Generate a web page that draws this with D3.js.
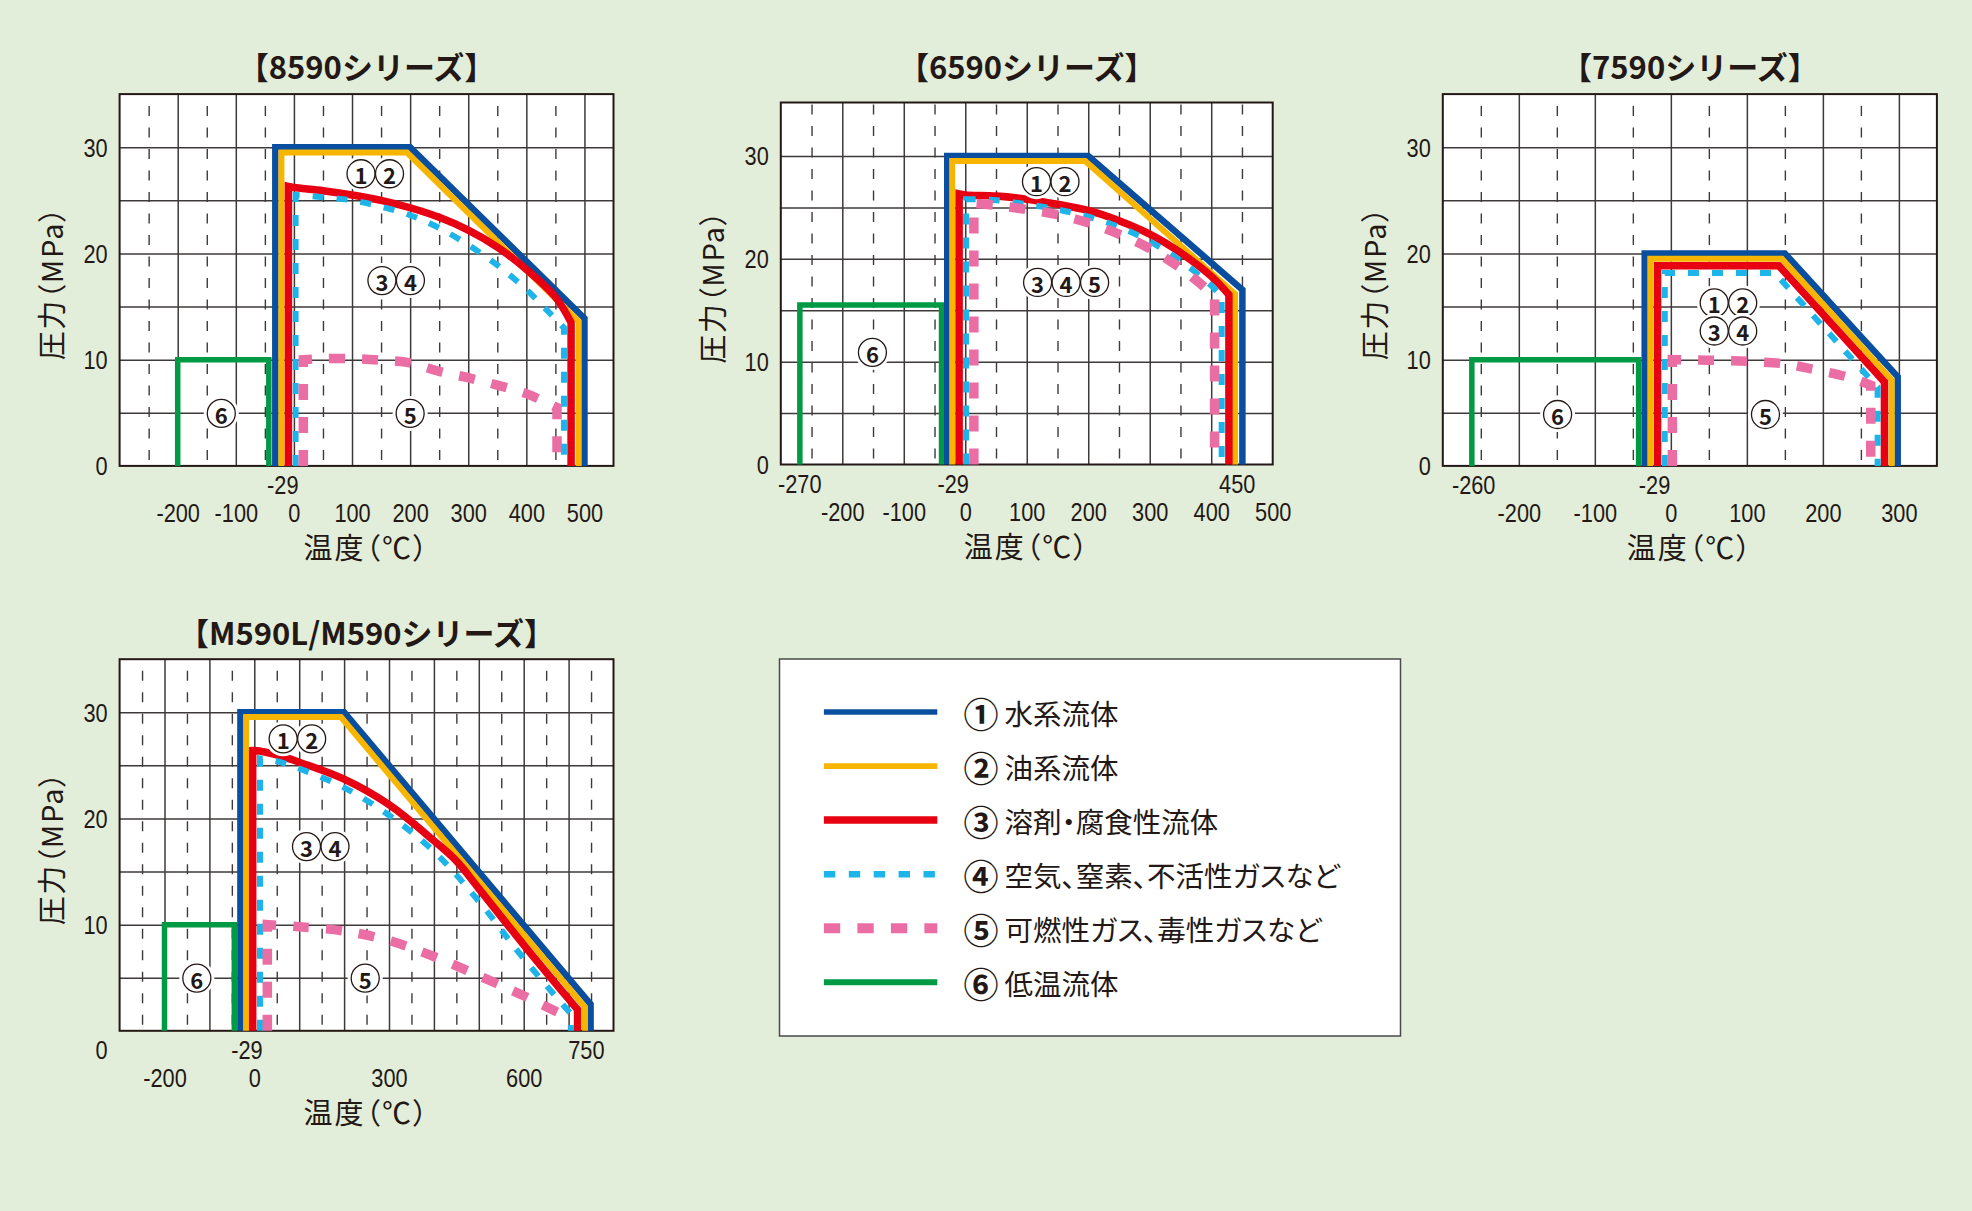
<!DOCTYPE html>
<html><head><meta charset="utf-8">
<script src="https://cdn.jsdelivr.net/npm/d3@7"></script>
<style>
html,body{margin:0;padding:0;background:#e2eed9;}
svg{display:block;}
</style></head><body>
<svg id="c" width="1972" height="1211"></svg>
<script>
// ================= DATA =================
const seriesMarks = ["①","②","③","④","⑤","⑥"];
const seriesNames = ["水系流体","油系流体","溶剤・腐食性流体","空気、窒素、不活性ガスなど","可燃性ガス、毒性ガスなど","低温流体"];
const yTickValues = [0, 10, 20, 30];
const yAxisTitle = "圧力（MPa）";
const xAxisTitle = "温度（℃）";

// 【8590シリーズ】
const title8590 = "【8590シリーズ】";
const water8590 = [[-32,0],[-32,30],[200,30],[500,13.9],[500,0]];
const oil8590   = [[-21.5,0],[-21.5,29.5],[194.5,29.5],[490,13.6],[490,0]];
const solv8590  = [[-9.5,0],[-9.5,26.3],[0,26.2],[50,25.9],[100,25.5],[150,25.0],[200,24.3],[250,23.4],[300,22.2],[350,20.6],[400,18.5],[450,15.9],[477,13.5],[477,0]];
const air8590   = [[2.9,0],[2.9,25.5],[50,25.3],[100,25.0],[150,24.4],[200,23.6],[250,22.4],[300,20.8],[350,18.9],[400,16.6],[440,14.4],[464.7,13.0],[464.7,0]];
const fuel8590  = [[16.2,0],[16.2,10.0],[50,10.1],[100,10.1],[150,9.95],[200,9.7],[250,8.9],[300,8.3],[350,7.6],[400,6.8],[452.8,5.5],[452.8,0]];
const cryo8590  = [[-200,0],[-200,10],[-43.2,10],[-43.2,0]];
const marks8590 = [["①②",140,27.5],["③④",176,17.45],["⑥",-125,4.94],["⑤",200,4.94]];
const row1Ticks8590 = [-29];
const row2Ticks8590 = [-200,-100,0,100,200,300,400,500];

// 【6590シリーズ】
const title6590 = "【6590シリーズ】";
const water6590 = [[-29.3,0],[-29.3,30],[200,30],[450.7,17.0],[450.7,0]];
const oil6590   = [[-21.3,0],[-21.3,29.5],[195,29.5],[438.7,16.6],[438.7,0]];
const solv6590  = [[-10,0],[-10,26.3],[0,26.2],[50,26.1],[100,25.8],[150,25.3],[200,24.7],[250,23.7],[300,22.4],[350,20.6],[400,18.3],[428.8,16.5],[428.8,0]];
const air6590   = [[1.3,0],[1.3,25.8],[50,25.7],[100,25.3],[150,24.8],[200,24.1],[250,23.1],[300,21.7],[350,19.8],[400,17.4],[417,16.3],[417,0]];
const fuel6590  = [[14,0],[14,25.4],[50,25.2],[100,24.8],[150,24.3],[200,23.5],[250,22.4],[300,21.0],[350,19.1],[380,17.7],[405.5,16.3],[405.5,0]];
const cryo6590  = [[-269,0],[-269,15.5],[-38.6,15.5],[-38.6,0]];
const marks6590 = [["①②",139,27.5],["③④⑤",164,17.7],["⑥",-151,10.9]];
const row1Ticks6590 = [-270,-29,450];
const row2Ticks6590 = [-200,-100,0,100,200,300,400,500];

// 【7590シリーズ】
const title7590 = "【7590シリーズ】";
const water7590 = [[-34.4,0],[-34.4,20],[150,20],[298.4,8.4],[298.4,0]];
const oil7590   = [[-27,0],[-27,19.5],[146,19.5],[290.4,8.1],[290.4,0]];
const solv7590  = [[-17.5,0],[-17.5,18.85],[142,18.85],[281,7.9],[281,0]];
const air7590   = [[-8,0],[-8,18.15],[137,18.15],[272,7.4],[272,0]];
const fuel7590  = [[2,0],[2,10],[50,9.95],[100,9.85],[150,9.6],[180,9.2],[220,8.6],[245,8.1],[263,7.6],[263,0]];
const cryo7590  = [[-261.8,0],[-261.8,10],[-42.4,10],[-42.4,0]];
const marks7590 = [["①②",75.8,15.35],["③④",75.8,12.7],["⑥",-149,4.84],["⑤",124.5,4.84]];
const row1Ticks7590 = [-260,-29];
const row2Ticks7590 = [-200,-100,0,100,200,300];

// 【M590L/M590シリーズ】
const titleM590 = "【M590L/M590シリーズ】";
const waterM590 = [[-30.9,0],[-30.9,30],[200,30],[749,2.5],[749,0]];
const oilM590   = [[-18.2,0],[-18.2,29.55],[193,29.55],[736.5,2.2],[736.5,0]];
const solvM590  = [[-3.6,0],[-3.6,26.4],[0,26.4],[50,26.0],[100,25.3],[200,23.7],[300,21.3],[400,17.9],[450,16.0],[500,13.4],[600,8.1],[700,3.0],[720,2.0],[720,0]];
const airM590   = [[12.7,0],[12.7,25.65],[50,25.4],[100,24.7],[200,22.9],[300,20.3],[400,16.9],[500,12.2],[600,6.8],[705,1.6],[705,0]];
const fuelM590  = [[29,0],[29,10],[100,9.8],[200,9.4],[300,8.5],[400,7.0],[500,5.2],[600,3.3],[688,1.5]];
const cryoM590  = [[-200,0],[-200,10],[-44.5,10],[-44.5,0]];
const marksM590 = [["①②",96,27.5],["③④",148,17.35],["⑥",-128,4.96],["⑤",247,4.96]];
const row1TicksM590 = [-29,750];
const row2TicksM590 = [-200,0,300,600];

// ================= STYLE / LAYOUT =================
const ink = "#231815";
const gridColor = "#3e3a39";
const seriesStyle = [
  {color:"#0a4f9f", width:6.5, dash:null, smooth:false},
  {color:"#f8b500", width:6,   dash:null, smooth:false},
  {color:"#e60012", width:7.5, dash:null, smooth:true},
  {color:"#1db4ea", width:6,   dash:"11 13", smooth:true},
  {color:"#ea6da4", width:9.5, dash:"16 17", smooth:true},
  {color:"#009a44", width:5.5, dash:null, smooth:false}
];
const jpFont = '"Noto Sans CJK JP","Noto Sans CJK SC",sans-serif';
const numFont = '"Liberation Sans",Arial,sans-serif';
const numSize = 25, numScale = 0.87;
const markR = 14, markStep = 28.5;

const charts = [
  {title:title8590, titleY:65, left:119.6, right:613.5, top:94.1, bottom:465.9, xDomain:[-300,550], yDomain:[0,35],
   series:[water8590,oil8590,solv8590,air8590,fuel8590,cryo8590], marks:marks8590, row1:row1Ticks8590, row2:row2Ticks8590, zeroInRow1:false},
  {title:title6590, titleY:65, left:780.8, right:1272.7, top:102.5, bottom:464.5, xDomain:[-300,500], yDomain:[0,35.2],
   series:[water6590,oil6590,solv6590,air6590,fuel6590,cryo6590], marks:marks6590, row1:row1Ticks6590, row2:row2Ticks6590, zeroInRow1:false},
  {title:title7590, titleY:65, left:1442.8, right:1936.9, top:94.1, bottom:465.9, xDomain:[-300,350], yDomain:[0,35],
   series:[water7590,oil7590,solv7590,air7590,fuel7590,cryo7590], marks:marks7590, row1:row1Ticks7590, row2:row2Ticks7590, zeroInRow1:false},
  {title:titleM590, titleY:631, left:119.6, right:613.5, top:659.2, bottom:1030.8, xDomain:[-300,800], yDomain:[0,35],
   series:[waterM590,oilM590,solvM590,airM590,fuelM590,cryoM590], marks:marksM590, row1:row1TicksM590, row2:row2TicksM590, zeroInRow1:true}
];

const svg = d3.select("#c");
svg.append("rect").attr("width",1972).attr("height",1211).attr("fill","#e2eed9");

function styleNum(sel){
  sel.style("font-family",numFont).style("font-size",numSize+"px").attr("fill",ink)
     .attr("transform",`scale(${numScale},1)`);
}

function drawChart(cfg){
  const g = svg.append("g");
  const x = d3.scaleLinear().domain(cfg.xDomain).range([cfg.left, cfg.right]);
  const y = d3.scaleLinear().domain(cfg.yDomain).range([cfg.bottom, cfg.top]);
  const H = cfg.bottom - cfg.top, W = cfg.right - cfg.left;
  const fmt = d => String(d);

  g.append("rect").attr("x",cfg.left).attr("y",cfg.top).attr("width",W).attr("height",H).attr("fill","#fff");

  // grid
  const [x0,x1] = cfg.xDomain;
  const solidX = d3.range(Math.ceil(x0/100)*100, x1, 100).filter(v => v > x0 && v < x1);
  const dashX = d3.range(Math.ceil((x0-50)/100)*100+50, x1, 100).filter(v => v > x0 && v < x1);
  const gridY = d3.range(5, cfg.yDomain[1]-1, 5);

  g.append("g").attr("transform",`translate(0,${cfg.bottom})`)
    .call(d3.axisBottom(x).tickValues(dashX).tickSize(-H).tickFormat(""))
    .call(s => s.select(".domain").remove())
    .selectAll("line").attr("stroke",gridColor).attr("stroke-width",1.4)
    .attr("stroke-dasharray","10 11.5").attr("stroke-dashoffset",-6);
  g.append("g").attr("transform",`translate(0,${cfg.bottom})`)
    .call(d3.axisBottom(x).tickValues(solidX).tickSize(-H).tickFormat(""))
    .call(s => s.select(".domain").remove())
    .selectAll("line").attr("stroke",gridColor).attr("stroke-width",1.5);
  g.append("g").attr("transform",`translate(${cfg.left},0)`)
    .call(d3.axisLeft(y).tickValues(gridY).tickSize(-W).tickFormat(""))
    .call(s => s.select(".domain").remove())
    .selectAll("line").attr("stroke",gridColor).attr("stroke-width",1.5);

  // frame
  g.append("rect").attr("x",cfg.left).attr("y",cfg.top).attr("width",W).attr("height",H)
    .attr("fill","none").attr("stroke",ink).attr("stroke-width",2);

  // series
  const lin = d3.line().x(d => x(d[0])).y(d => y(d[1]));
  const smoothLine = d3.line().x(d => x(d[0])).y(d => y(d[1])).curve(d3.curveCatmullRom.alpha(0.5));
  function pathFor(pts, smooth){
    if (!smooth || pts.length < 6) return lin(pts);
    const first = pts[0], last = pts[pts.length-1];
    const mid = pts.slice(1, -1);
    return `M${x(first[0])},${y(first[1])}` + smoothLine(mid).replace(/^M/,"L") + `L${x(last[0])},${y(last[1])}`;
  }
  const order = [5,0,1,2,3,4];
  order.forEach(i => {
    const st = seriesStyle[i];
    g.append("path").attr("d", pathFor(cfg.series[i], st.smooth))
      .attr("fill","none").attr("stroke",st.color).attr("stroke-width",st.width)
      .attr("stroke-linejoin","miter").attr("stroke-linecap","butt")
      .attr("stroke-dasharray", st.dash);
  });

  // circled labels: white halo, thin ring, bold digit
  cfg.marks.forEach(([txt, t, p]) => {
    const chars = Array.from(txt);
    const cy = y(p);
    const xs = chars.map((ch,k) => x(t) + (k - (chars.length-1)/2) * markStep);
    xs.forEach(cx => g.append("circle").attr("cx",cx).attr("cy",cy).attr("r",markR+3.5).attr("fill","#fff"));
    xs.forEach((cx,k) => {
      g.append("circle").attr("cx",cx).attr("cy",cy).attr("r",markR)
        .attr("fill","#fff").attr("stroke",ink).attr("stroke-width",1.3);
      g.append("text").attr("x",cx).attr("y",cy+0.5).attr("text-anchor","middle").attr("dominant-baseline","central")
        .style("font-family",jpFont).style("font-size","22px").style("font-weight","700")
        .attr("fill",ink).text(String(seriesMarks.indexOf(chars[k]) + 1));
    });
  });

  // y axis labels
  const ya = g.append("g").attr("transform",`translate(${cfg.left},0)`)
    .call(d3.axisLeft(y).tickValues(yTickValues).tickFormat(fmt).tickSize(0).tickPadding(12));
  ya.select(".domain").remove();
  ya.selectAll("text").call(styleNum).attr("x", -12/numScale).attr("dy","0.36em");
  if (cfg.zeroInRow1){
    ya.selectAll(".tick").filter(d => d === 0).select("text").attr("y", (cfg.bottom + 19) - y(0));
  }

  // x axis rows
  const row1 = g.append("g").attr("transform",`translate(0,${cfg.bottom + 19})`)
    .call(d3.axisBottom(x).tickValues(cfg.row1).tickFormat(fmt).tickSize(0).tickPadding(0));
  row1.select(".domain").remove();
  row1.selectAll("text").call(styleNum)
    .attr("y",0).attr("dy","0.36em")
    .attr("dx", d => d === -29 ? 6 : (d > 0 ? -6 : 0));
  const row2 = g.append("g").attr("transform",`translate(0,${cfg.bottom + 47})`)
    .call(d3.axisBottom(x).tickValues(cfg.row2).tickFormat(fmt).tickSize(0).tickPadding(0));
  row2.select(".domain").remove();
  row2.selectAll("text").call(styleNum).attr("y",0).attr("dy","0.36em");

  // axis titles
  g.append("text").attr("x",(cfg.left+cfg.right)/2).attr("y",cfg.bottom + 80)
    .attr("text-anchor","middle").attr("dominant-baseline","central")
    .style("font-family",jpFont).style("font-size","29px").style("font-feature-settings",'"palt"')
    .style("letter-spacing","2px")
    .attr("fill",ink).text(xAxisTitle);
  const ym = (cfg.top+cfg.bottom)/2 + 3;
  g.append("text").attr("transform",`translate(${cfg.left-70},${ym}) rotate(-90)`)
    .attr("text-anchor","middle").attr("dominant-baseline","central")
    .style("font-family",jpFont).style("font-size","29px").style("font-feature-settings",'"palt"')
    .style("letter-spacing","1.5px")
    .attr("fill",ink).text(yAxisTitle);

  // title
  g.append("text").attr("x",(cfg.left+cfg.right)/2).attr("y",cfg.titleY)
    .attr("text-anchor","middle").attr("dominant-baseline","central")
    .style("font-family",jpFont).style("font-size","31px").style("font-weight","bold")
    .attr("fill",ink).text(cfg.title);
}

charts.forEach(drawChart);

// ================= LEGEND =================
const lg = svg.append("g");
lg.append("rect").attr("x",779.5).attr("y",659).attr("width",621).attr("height",377)
  .attr("fill","#fff").attr("stroke","#4a4a4a").attr("stroke-width",1.5);
const legendY = d3.scaleLinear().domain([0,5]).range([712,982.3]);
const legendLineW = [5.7,5.7,7.5,6.5,10,6];
const legendDash = [null,null,null,"11.4 13.5","16.3 17.2",null];
seriesNames.forEach((name,i) => {
  const yy = legendY(i);
  lg.append("line").attr("x1",823.9).attr("x2",937.3).attr("y1",yy).attr("y2",yy)
    .attr("stroke",seriesStyle[i].color).attr("stroke-width",legendLineW[i])
    .attr("stroke-dasharray",legendDash[i]);
  lg.append("text").attr("x",981).attr("y",yy).attr("text-anchor","middle").attr("dominant-baseline","central")
    .style("font-family",jpFont).style("font-size","35px").style("font-weight","700")
    .attr("fill",ink).text(seriesMarks[i]);
  lg.append("text").attr("x",1004.6).attr("y",yy).attr("dominant-baseline","central")
    .style("font-family",jpFont).style("font-size","28.5px").style("font-feature-settings",'"palt"')
    .attr("fill",ink).text(name);
});
</script>
</body></html>
